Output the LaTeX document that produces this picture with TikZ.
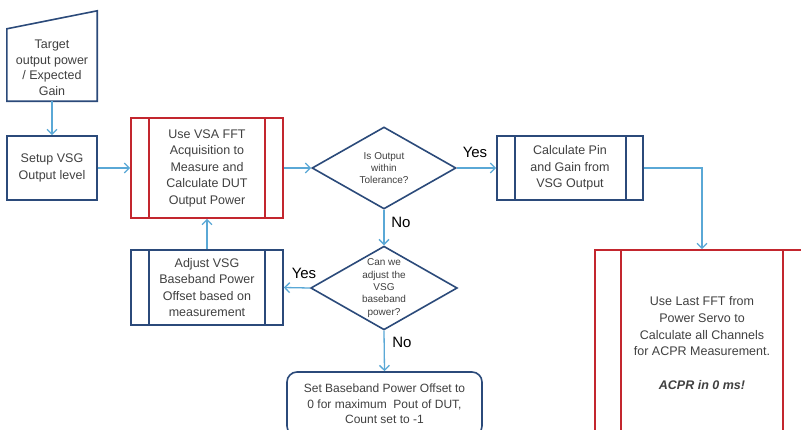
\documentclass[tikz,border=0pt]{standalone}
\usepackage{fontspec}
\setmainfont{Liberation Sans}
\usetikzlibrary{shapes.geometric,arrows.meta}
\definecolor{boxblue}{HTML}{2B4A7A}
\definecolor{boxred}{HTML}{C3262E}
\definecolor{arrowblue}{HTML}{5AA8D6}
\definecolor{txtgray}{HTML}{404040}
\tikzset{
  bluebox/.style={draw=boxblue, line width=1.6pt, inner sep=0pt, align=center, text=txtgray,
    font=\fontsize{12.5}{16.5}\selectfont},
  redbox/.style={draw=boxred, line width=1.6pt, inner sep=0pt, align=center, text=txtgray,
    font=\fontsize{12.5}{16.5}\selectfont},
  decision/.style={diamond, aspect=1.75, draw=boxblue, line width=1.6pt, inner sep=0pt,
    minimum width=144pt, minimum height=82pt, align=center, text=txtgray,
    font=\fontsize{10}{12.4}\selectfont},
  conn/.style={draw=arrowblue, line width=1.3pt, -{Straight Barb[length=5pt,width=10pt]}},
  yesno/.style={font=\fontsize{15}{18}\selectfont, text=black, inner sep=0pt},
  blueline/.style={draw=boxblue, line width=1.6pt},
  redline/.style={draw=boxred, line width=1.6pt}
}
\begin{document}
\begin{tikzpicture}[x=1pt,y=-1pt]
\useasboundingbox[fill=white] (0,0) rectangle (801,429);

% manual input
\node[inner sep=0pt, minimum width=90pt, minimum height=66pt, align=center, text=txtgray,
  font=\fontsize{12.5}{15.5}\selectfont] (tgt) at (52,68) {Target\\output power\\/ Expected\\Gain};
\draw[blueline] (tgt.south west) -- (tgt.south east) -- ([yshift=24pt]tgt.north east) -- ([yshift=6pt]tgt.north west) -- cycle;

% setup
\node[bluebox, minimum width=90pt, minimum height=64pt] (setup) at (52,168) {Setup VSG\\Output level};

% measure (red predefined process)
\node[redbox, minimum width=152pt, minimum height=100pt] (meas) at (207,168)
  {Use VSA FFT\\Acquisition to\\Measure and\\Calculate DUT\\Output Power};
\draw[redline] ([xshift=19pt]meas.north west) -- ([xshift=19pt]meas.south west);
\draw[redline] ([xshift=-19pt]meas.north east) -- ([xshift=-19pt]meas.south east);

% decision 1
\node[decision] (d1) at (384,168) {Is Output\\within\\Tolerance?};

% calc
\node[bluebox, minimum width=146pt, minimum height=64pt] (calc) at (570,168)
  {Calculate Pin\\and Gain from\\VSG Output};
\draw[blueline] ([xshift=19pt]calc.north west) -- ([xshift=19pt]calc.south west);
\draw[blueline] ([xshift=-18pt]calc.north east) -- ([xshift=-18pt]calc.south east);

% decision 2
\node[decision] (d2) at (384,288) {Can we\\adjust the\\VSG\\baseband\\power?};

% adjust
\node[bluebox, minimum width=152pt, minimum height=75pt] (adj) at (207,287.5)
  {Adjust VSG\\Baseband Power\\Offset based on\\measurement};
\draw[blueline] ([xshift=19pt]adj.north west) -- ([xshift=19pt]adj.south west);
\draw[blueline] ([xshift=-19pt]adj.north east) -- ([xshift=-19pt]adj.south east);

% set baseband
\node[draw=boxblue, line width=1.6pt, rounded corners=10pt, inner sep=0pt, align=center,
  text=txtgray, font=\fontsize{12}{15.5}\selectfont, minimum width=195pt, minimum height=64pt]
  (setbb) at (384.5,404) {Set Baseband Power Offset to\\0 for maximum\ \ Pout of DUT,\\Count set to -1};

% ACPR box
\node[redbox, minimum width=214pt, minimum height=186pt, font=\fontsize{12.5}{16.7}\selectfont] (acpr) at (702,343)
  {Use Last FFT from\\Power Servo to\\Calculate all Channels\\for ACPR Measurement.\\[16.7pt]\textbf{\textit{ACPR in 0 ms!}}};
\draw[redline] ([xshift=27pt]acpr.north west) -- ([xshift=27pt]acpr.south west);
\draw[redline] ([xshift=-27pt]acpr.north east) -- ([xshift=-27pt]acpr.south east);

% connectors
\draw[conn] (tgt.south) -- (setup.north);
\draw[conn] (setup.east) -- (meas.west);
\draw[conn] (meas.east) -- (d1.west);
\draw[conn] (d1.east) -- (calc.west);
\draw[conn] (calc.east) -| (acpr.north);
\draw[conn] (d1.south) -- (d2.north);
\draw[conn] (d2.west) -- (adj.east);
\draw[conn] (adj.north) -- (meas.south);
\draw[conn] (d2.south) -- (setbb.north);

% labels
\node[yesno] (yes1) at (475,152) {Yes};
\node[yesno] (no1) at (401,222) {No};
\node[yesno] (yes2) at (304,273) {Yes};
\node[yesno] (no2) at (402,342) {No};
\end{tikzpicture}
\end{document}
